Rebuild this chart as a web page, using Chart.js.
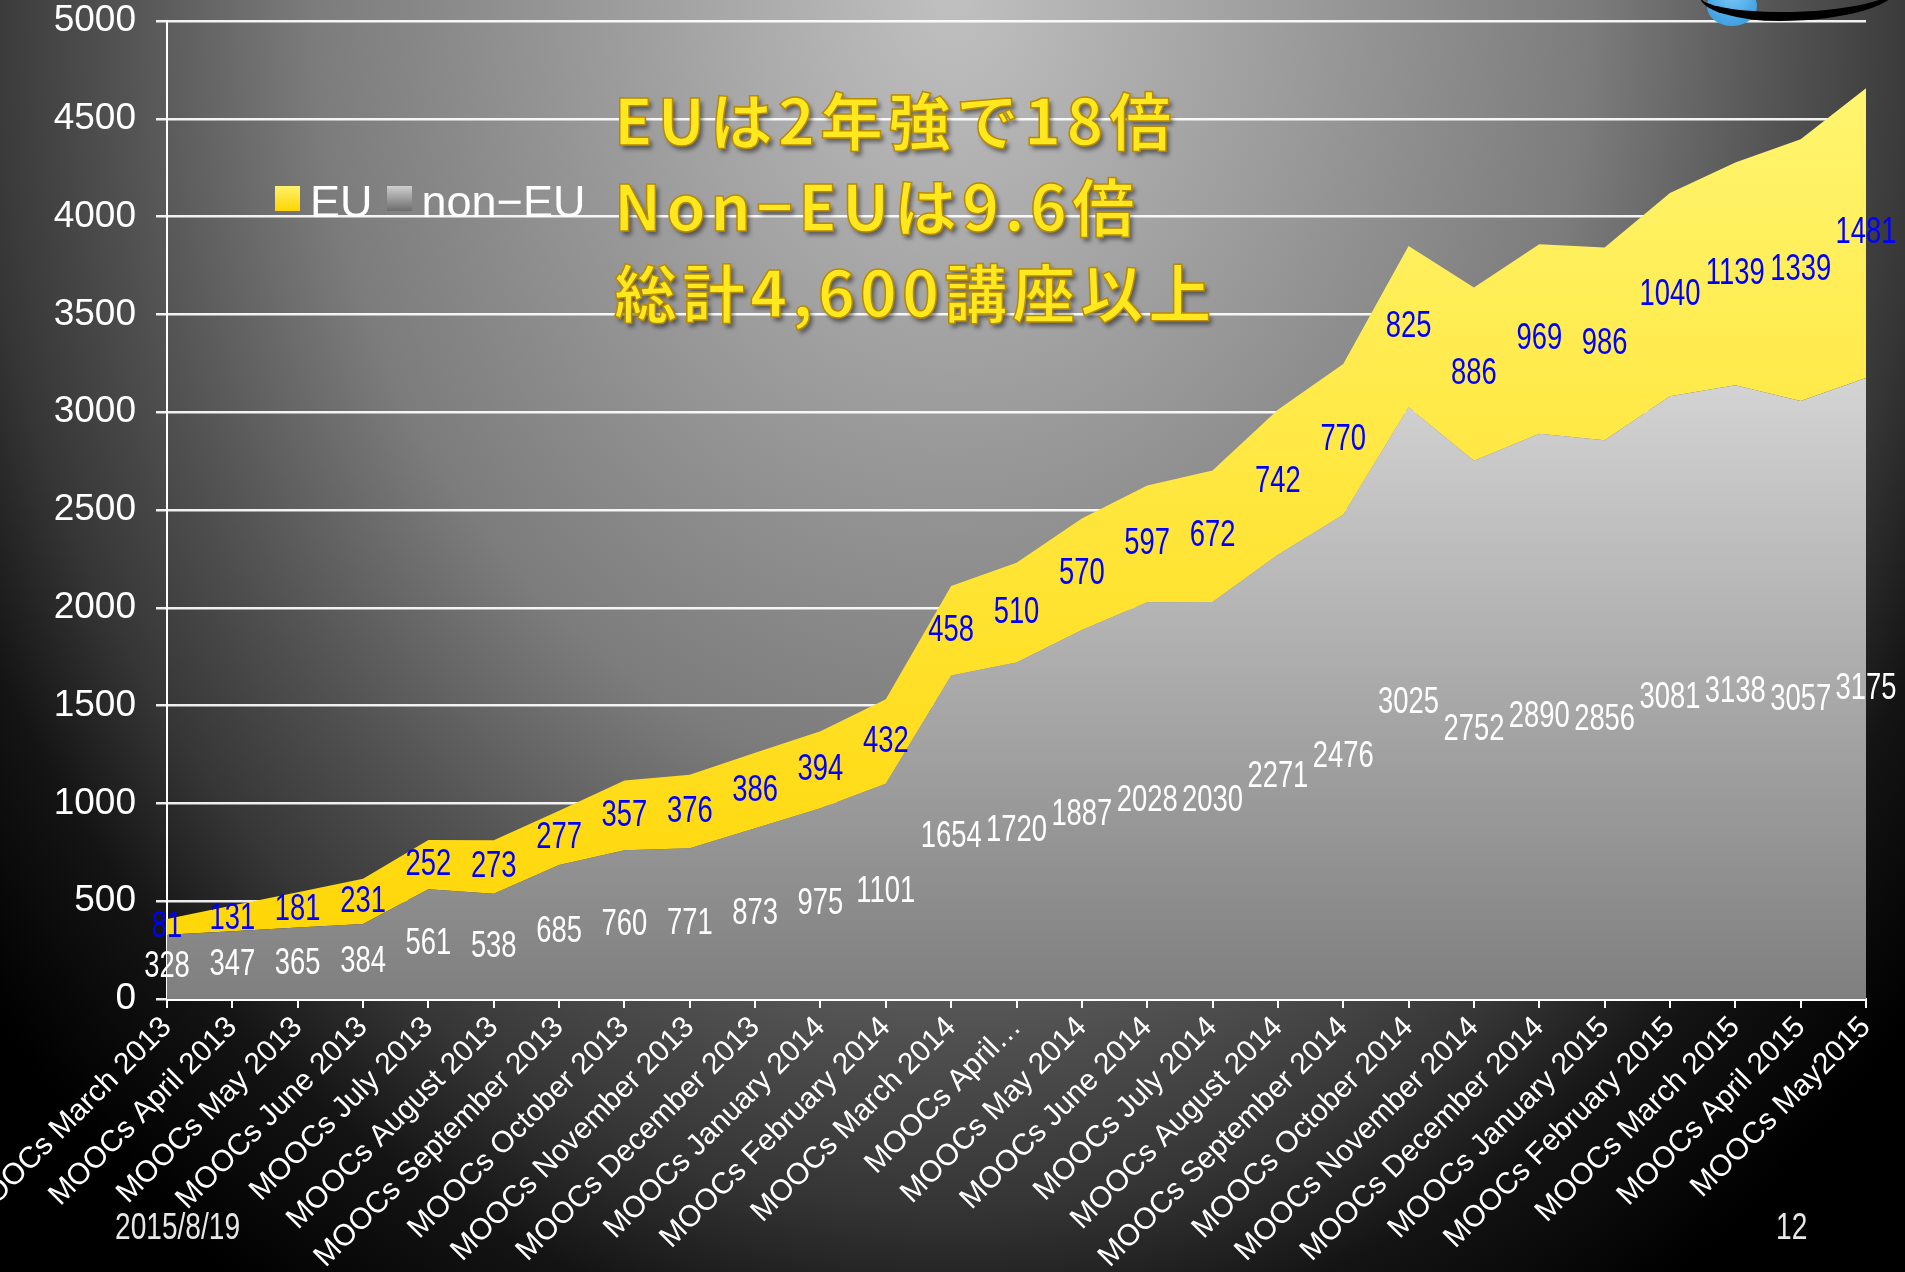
<!DOCTYPE html>
<html lang="ja">
<head>
<meta charset="utf-8">
<title>MOOCs EU / non-EU</title>
<script src="https://cdn.jsdelivr.net/npm/chart.js@4.4.1/dist/chart.umd.min.js"></script>
<style>
  html, body { margin: 0; padding: 0; }
  body {
    width: 1905px; height: 1272px; overflow: hidden; position: relative;
    background-color: #000;
    background-image: radial-gradient(1100px 1350px at 50% 0%, #c0c0c0 0%, #7c7c7c 58%, #525252 76%, #363636 89%, #141414 100%, #000 115%);
    font-family: "Liberation Sans", Arial, sans-serif;
  }
  #chart { position: absolute; left: 0; top: 0; }
  #legend {
    position: absolute; left: 275px; top: 176px;
    color: #fff; font-size: 45px; line-height: 52px; white-space: nowrap;
  }
  #legend span.box { display: inline-block; width: 25px; height: 25px; margin-right: 10px; vertical-align: 6px; }
  #legend span.item { margin-right: 14px; }
  #note {
    position: absolute; left: 614px; top: 75px;
    font-family: "Noto Sans CJK JP", sans-serif; font-weight: 700;
    font-size: 63px; line-height: 86px; letter-spacing: 5px; white-space: nowrap;
    color: #ffe81e;
    -webkit-text-stroke: 1.5px #b88a00;
    text-shadow: 3px 4px 4px rgba(0,0,0,0.45);
  }
  .foot {
    position: absolute; top: 1206px; color: #e8e8e8;
    font-family: "Liberation Sans", Arial, sans-serif; font-size: 37px;
    transform: scaleX(0.76); transform-origin: left top;
  }
  .logo-arc {
    position: absolute; left: 1700px; top: -40px; width: 200px; height: 52px;
    border-bottom: 9px solid #000; border-radius: 0 0 60% 40%;
  }
  .logo-dot {
    position: absolute; left: 1707px; top: -14px; width: 50px; height: 40px;
    border-radius: 50%; background: radial-gradient(circle at 50% 20%, #7cc8f5 0%, #4aa8e6 60%, #3a98d8 100%);
  }
</style>
</head>
<body>
<canvas id="chart" width="1905" height="1272"></canvas>
<div class="logo-dot"></div>
<div class="logo-arc"></div>
<div id="legend"></div>
<div id="note">
  <div>EUは2年強で18倍</div>
  <div>Non−EUは9.6倍</div>
  <div>総計4,600講座以上</div>
</div>
<div class="foot" style="left:115px">2015/8/19</div>
<div class="foot" style="left:1776px">12</div>
<script>
const categories = [
  "MOOCs March 2013", "MOOCs April 2013", "MOOCs May 2013", "MOOCs June 2013",
  "MOOCs July 2013", "MOOCs August 2013", "MOOCs September 2013", "MOOCs October 2013",
  "MOOCs November 2013", "MOOCs December 2013", "MOOCs January 2014", "MOOCs February 2014",
  "MOOCs March 2014", "MOOCs April…", "MOOCs May 2014", "MOOCs June 2014",
  "MOOCs July 2014", "MOOCs August 2014", "MOOCs September 2014", "MOOCs October 2014",
  "MOOCs November 2014", "MOOCs December 2014", "MOOCs January 2015", "MOOCs February 2015",
  "MOOCs March 2015", "MOOCs April 2015", "MOOCs May2015"
];
const euCounts = [81, 131, 181, 231, 252, 273, 277, 357, 376, 386, 394, 432, 458, 510,
  570, 597, 672, 742, 770, 825, 886, 969, 986, 1040, 1139, 1339, 1481];
const nonEuCounts = [328, 347, 365, 384, 561, 538, 685, 760, 771, 873, 975, 1101, 1654, 1720,
  1887, 2028, 2030, 2271, 2476, 3025, 2752, 2890, 2856, 3081, 3138, 3057, 3175];
const yMax = 5000;
const yStep = 500;

function grayFill(context) {
  const chart = context.chart;
  if (!chart.chartArea) return '#a0a0a0';
  const y = chart.scales.y;
  const g = chart.ctx.createLinearGradient(0, y.getPixelForValue(Math.max(...nonEuCounts)), 0, y.getPixelForValue(0));
  g.addColorStop(0, '#d4d4d4');
  g.addColorStop(1, '#7f7f7f');
  return g;
}

function yellowFill(context) {
  const chart = context.chart;
  if (!chart.chartArea) return '#ffe640';
  const y = chart.scales.y;
  const top = Math.max(...euCounts.map((v, i) => v + nonEuCounts[i]));
  const g = chart.ctx.createLinearGradient(0, y.getPixelForValue(top), 0, y.getPixelForValue(0));
  g.addColorStop(0, '#fff570');
  g.addColorStop(1, '#ffd500');
  return g;
}

// rótulo estreito, no meio de cada faixa
function narrowText(ctx, text, x, y) {
  ctx.save();
  ctx.translate(x, y);
  ctx.scale(0.74, 1);
  ctx.fillText(text, 0, 0);
  ctx.restore();
}

const valueLabels = {
  id: 'valueLabels',
  afterDatasetsDraw(chart) {
    const ctx = chart.ctx;
    const xs = chart.scales.x, ys = chart.scales.y;
    ctx.save();
    ctx.font = '37px "Liberation Sans", Arial, sans-serif';
    ctx.textAlign = 'center';
    ctx.textBaseline = 'middle';
    nonEuCounts.forEach(function(v, i) {
      const px = xs.getPixelForValue(i);
      ctx.fillStyle = '#ffffff';
      narrowText(ctx, String(v), px, ys.getPixelForValue(v / 2));
      ctx.fillStyle = '#0000ff';
      narrowText(ctx, String(euCounts[i]), px, ys.getPixelForValue(v + euCounts[i] / 2));
    });
    ctx.restore();
  }
};

const chart = new Chart(document.getElementById('chart'), {
  type: 'line',
  data: {
    labels: categories,
    datasets: [
      { label: 'non−EU', data: nonEuCounts, fill: 'origin', backgroundColor: grayFill,
        borderWidth: 0, pointRadius: 0, tension: 0, legendBox: 'linear-gradient(#cfcfcf, #6c6c6c)' },
      { label: 'EU', data: euCounts, fill: '-1', backgroundColor: yellowFill,
        borderWidth: 0, pointRadius: 0, tension: 0, legendBox: 'linear-gradient(#fff36b, #ffd400)' }
    ]
  },
  options: {
    responsive: false,
    animation: false,
    devicePixelRatio: 1,
    layout: { padding: { top: 21, right: 39, left: 0, bottom: 0 } },
    plugins: { legend: { display: false }, tooltip: { enabled: false } },
    scales: {
      x: {
        offset: false,
        grid: { drawOnChartArea: false, drawTicks: true, tickLength: 9, color: '#ffffff', lineWidth: 2 },
        border: { display: true, color: '#ffffff', width: 3 },
        ticks: { color: '#ffffff', autoSkip: false, maxRotation: 45, minRotation: 45, padding: 2,
          font: { family: '"Liberation Sans", Arial, sans-serif', size: 30 } },
        afterFit: function(scale) {
          scale.height = 273;
          scale.paddingLeft = 0;
          scale.paddingRight = 0;
        }
      },
      y: {
        stacked: true,
        min: 0, max: yMax,
        grid: { color: 'rgba(255,255,255,0.92)', lineWidth: 2.5, tickLength: 11 },
        border: { display: true, color: '#ffffff', width: 2 },
        ticks: { stepSize: yStep, color: '#ffffff', padding: 20,
          callback: function(v) { return String(v); },
          font: { family: '"Liberation Sans", Arial, sans-serif', size: 37 } },
        afterFit: function(scale) {
          scale.width = 167;
          scale.paddingTop = 0;
          scale.paddingBottom = 0;
        }
      }
    }
  },
  plugins: [valueLabels]
});

// legenda em HTML (EU primeiro, como no slide)
const legend = document.getElementById('legend');
chart.data.datasets.slice().reverse().forEach(function(ds) {
  const item = document.createElement('span');
  item.className = 'item';
  const box = document.createElement('span');
  box.className = 'box';
  box.style.background = ds.legendBox;
  item.appendChild(box);
  item.appendChild(document.createTextNode(ds.label));
  legend.appendChild(item);
});
</script>
</body>
</html>
